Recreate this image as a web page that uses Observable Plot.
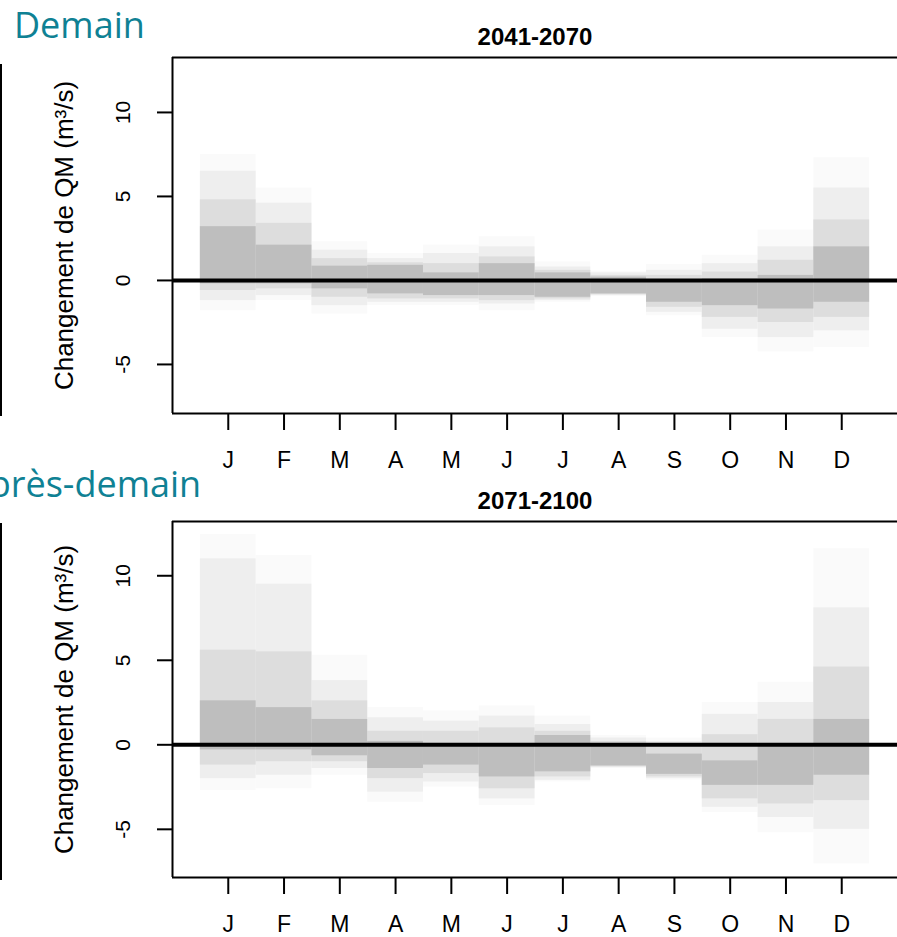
<!DOCTYPE html>
<html>
<head>
<meta charset="utf-8">
<script src="https://cdn.jsdelivr.net/npm/d3@7"></script>
<script src="https://cdn.jsdelivr.net/npm/@observablehq/plot@0.6"></script>
<style>
  html, body { margin: 0; padding: 0; background: #fff; }
  #page { position: relative; width: 897px; height: 937px; overflow: hidden; background: #fff; }
  .head { position: absolute; font-family: "Open Sans", "Noto Sans", sans-serif; color: #0f8194; font-size: 36px; white-space: nowrap; line-height: 1; }
  .edge { position: absolute; left: 0; width: 2px; background: #000; }
  .panel { position: absolute; left: 0; }
</style>
</head>
<body>
<div id="page">
  <div class="head" id="h1" style="left:14px; top:7px;"></div>
  <div class="head" id="h2" style="left:-34px; top:466px;"></div>
  <div class="edge" style="top:64px; height:352px;"></div>
  <div class="edge" style="top:523px; height:357px;"></div>
  <div class="panel" id="p1" style="top:0px;"></div>
  <div class="panel" id="p2" style="top:470px;"></div>
</div>
<script>
// ---- data ----
const headings = ["Demain", "Après-demain"];
const periods = ["2041-2070", "2071-2100"];
const months = ["J", "F", "M", "A", "M", "J", "J", "A", "S", "O", "N", "D"];
const yTicks = [-5, 0, 5, 10];
const yLabel = "Changement de QM (m³/s)";

// 2041-2070 : nested envelopes (outer -> core), m3/s
const p1Max    = [7.5, 5.5, 2.3, 1.6, 2.1, 2.6, 1.1, 0.55, 0.95, 1.5, 3.0, 7.3];
const p1Hi1    = [6.5, 4.6, 1.8, 1.3, 1.6, 2.0, 0.8, 0.45, 0.6, 1.0, 2.0, 5.5];
const p1Hi2    = [4.8, 3.4, 1.3, 1.05, 1.0, 1.4, 0.6, 0.3, 0.3, 0.5, 1.2, 3.6];
const p1CoreHi = [3.2, 2.1, 0.85, 0.9, 0.45, 1.0, 0.45, 0.2, 0.0, 0.1, 0.3, 2.0];
const p1CoreLo = [-0.2, -0.2, -0.5, -0.8, -0.9, -0.9, -1.0, -0.8, -1.3, -1.5, -1.7, -1.3];
const p1Lo2    = [-0.6, -0.5, -1.0, -1.1, -1.1, -1.2, -1.1, -0.85, -1.6, -2.2, -2.5, -2.2];
const p1Lo1    = [-1.2, -0.9, -1.5, -1.3, -1.3, -1.4, -1.2, -0.9, -1.9, -2.9, -3.4, -3.0];
const p1Min    = [-1.8, -1.2, -2.0, -1.5, -1.5, -1.8, -1.3, -0.95, -2.1, -3.4, -4.25, -4.0];

// 2071-2100
const p2Max    = [12.45, 11.2, 5.3, 2.2, 2.0, 2.3, 1.7, 0.55, 0.4, 2.5, 3.7, 11.6];
const p2Hi1    = [11.0, 9.5, 3.8, 1.6, 1.4, 1.7, 1.2, 0.4, 0.2, 1.8, 2.5, 8.1];
const p2Hi2    = [5.6, 5.5, 2.6, 0.8, 0.8, 1.0, 0.8, 0.2, 0.0, 0.6, 1.5, 4.6];
const p2CoreHi = [2.6, 2.2, 1.5, 0.2, -0.1, 0.0, 0.55, -0.1, -0.55, -0.95, 0.0, 1.5];
const p2CoreLo = [-0.3, -0.3, -0.65, -1.4, -1.2, -1.9, -1.6, -1.25, -1.75, -2.4, -2.4, -1.8];
const p2Lo2    = [-1.2, -1.0, -1.0, -2.0, -1.7, -2.6, -1.9, -1.3, -1.9, -3.2, -3.5, -3.3];
const p2Lo1    = [-2.0, -1.8, -1.4, -2.8, -2.2, -3.2, -2.1, -1.35, -2.0, -3.7, -4.3, -5.0];
const p2Min    = [-2.7, -2.6, -1.8, -3.4, -2.5, -3.6, -2.2, -1.4, -2.1, -4.0, -5.2, -7.05];

// ---- drawing ----
document.getElementById("h1").textContent = headings[0];
document.getElementById("h2").textContent = headings[1];

const levelFills = ["#fafafa", "#eeeeee", "#dddddd", "#bebebe"];
const monthIdx = months.map((_, i) => i);

function panel(title, lows, highs, yDomain, height, mTop, mBottom) {
  const marks = [];
  lows.forEach((lo, k) => {
    const hi = highs[k];
    marks.push(Plot.rect(monthIdx, {
      x1: i => i - 0.5, x2: i => i + 0.5,
      y1: i => lo[i], y2: i => hi[i],
      fill: levelFills[k]
    }));
  });
  marks.push(
    Plot.ruleY([0], {stroke: "#000", strokeWidth: 4}),
    Plot.ruleY([yDomain[0], yDomain[1]], {stroke: "#000", strokeWidth: 2}),
    Plot.ruleX([-1], {stroke: "#000", strokeWidth: 2}),
    Plot.axisX(monthIdx, {anchor: "bottom", tickSize: 17, tickFormat: () => "", strokeWidth: 2, stroke: "#000"}),
    Plot.axisY(yTicks, {anchor: "left", tickSize: 15, tickFormat: () => "", strokeWidth: 2, stroke: "#000"}),
    Plot.text(monthIdx, {x: i => i, text: i => months[i], frameAnchor: "bottom", lineAnchor: "middle", textAnchor: "middle", dy: 47, fontSize: 23, fill: "#000"}),
    Plot.text(yTicks, {y: d => d, text: d => String(d), frameAnchor: "left", lineAnchor: "middle", textAnchor: "middle", dx: -49, rotate: -90, fontSize: 21, fill: "#000"}),
    Plot.text([yLabel], {text: d => d, frameAnchor: "left", lineAnchor: "middle", textAnchor: "middle", dx: -108, rotate: -90, fontSize: 26, fill: "#000"}),
    Plot.text([title], {text: d => d, frameAnchor: "top", lineAnchor: "middle", textAnchor: "middle", dy: -20, fontSize: 24, fontWeight: "bold", fill: "#000"})
  );
  return Plot.plot({
    width: 897,
    height,
    marginLeft: 172,
    marginRight: 0,
    marginTop: mTop,
    marginBottom: mBottom,
    x: {domain: [-1, 12], axis: null},
    y: {domain: yDomain, axis: null},
    style: {fontFamily: "'Liberation Sans', Arial, sans-serif", background: "transparent", overflow: "visible"},
    marks
  });
}

document.getElementById("p1").appendChild(
  panel(periods[0], [p1Min, p1Lo1, p1Lo2, p1CoreLo], [p1Max, p1Hi1, p1Hi2, p1CoreHi], [-7.92, 13.27], 470, 57, 57)
);
document.getElementById("p2").appendChild(
  panel(periods[1], [p2Min, p2Lo1, p2Lo2, p2CoreLo], [p2Max, p2Hi1, p2Hi2, p2CoreHi], [-7.85, 13.21], 467, 51, 60)
);
</script>
</body>
</html>
